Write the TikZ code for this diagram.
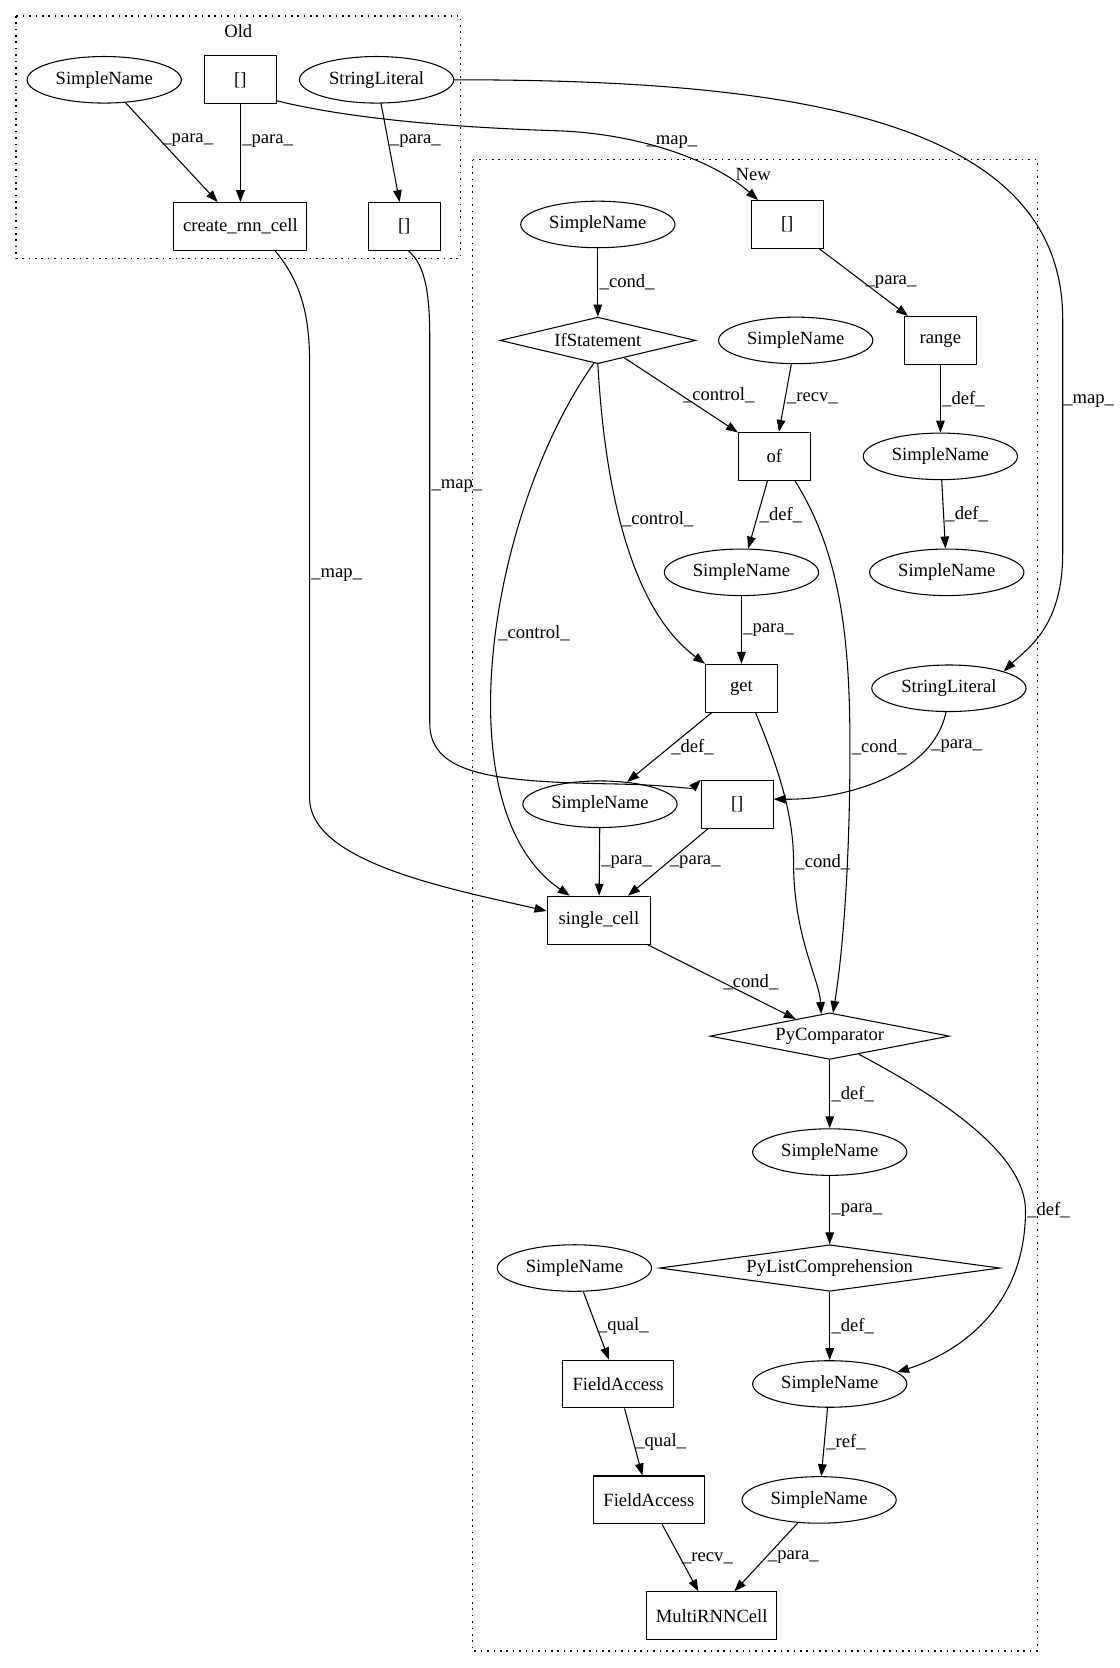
\documentclass[tikz,border=0pt]{standalone}
\usepackage{fontspec}
\setmainfont{Liberation Serif}
\usetikzlibrary{arrows.meta, shapes.geometric}

\begin{document}
\begin{tikzpicture}[x=0.8pt, y=-0.8pt,
  font=\fontsize{14pt}{16pt}\selectfont,
  ell/.style={draw, ellipse, line width=0.8pt, minimum width=116pt, minimum height=35pt, inner sep=0pt},
  box/.style={draw, rectangle, line width=0.8pt, minimum width=54pt, minimum height=36pt},
  dia/.style={draw, diamond, aspect=6, line width=0.8pt, minimum height=35pt, inner sep=0pt},
  lbl/.style={anchor=west, inner sep=1pt},
  edge/.style={-{Triangle[length=9pt, width=6.5pt]}, line width=0.8pt},
  cluster/.style={line width=0.9pt, dash pattern=on 1.2pt off 3.6pt}]
  \useasboundingbox (0,0) rectangle (1052,1568);

  % Old
  \draw[cluster] (15,15) rectangle (433,243);
  \node (oldlbl) at (224,29) {Old};
  \node[ell] (oSN) at (98,75) {SimpleName};
  \node[box] (oArr) at (226,75) {[]};
  \node[ell] (oSL) at (354,75) {StringLiteral};
  \node[box, minimum width=100pt] (oCreate) at (226,213) {create\_rnn\_cell};
  \node[box] (oArr2) at (380,213) {[]};

  % New
  \draw[cluster] (444,150) rectangle (975,1552);
  \node (newlbl) at (708,164) {New};
  \node[box] (nArr1) at (740,211) {[]};
  \node[ell] (nSNcond) at (562,211) {SimpleName};
  \node[dia, minimum width=147pt] (nIf) at (562,320) {IfStatement};
  \node[ell] (nSNrecv) at (748,320) {SimpleName};
  \node[box] (nRange) at (884,320) {range};
  \node[box] (nOf) at (728,429) {of};
  \node[ell] (nSNr1) at (884,429) {SimpleName};
  \node[ell] (nSNof) at (697,538) {SimpleName};
  \node[ell] (nSNr2) at (890,538) {SimpleName};
  \node[box] (nGet) at (697,647) {get};
  \node[ell] (nSL) at (892,647) {StringLiteral};
  \node[ell] (nSNget) at (564,756) {SimpleName};
  \node[box] (nArr2) at (693,756) {[]};
  \node[box, minimum width=78pt] (nSingle) at (563,865) {single\_cell};
  \node[dia, minimum width=180pt] (nPyComp) at (780,974) {PyComparator};
  \node[ell] (nSNc) at (780,1083) {SimpleName};
  \node[dia, aspect=7, minimum width=256pt] (nPyList) at (780,1192) {PyListComprehension};
  \node[ell] (nSNq) at (540,1192) {SimpleName};
  \node[box, minimum width=83pt] (nFA1) at (581,1301) {FieldAccess};
  \node[ell] (nSNd) at (780,1301) {SimpleName};
  \node[box, minimum width=83pt] (nFA2) at (610,1410) {FieldAccess};
  \node[ell] (nSNref) at (770,1410) {SimpleName};
  \node[box, minimum width=98pt] (nMulti) at (669,1519) {MultiRNNCell};

  % straight edges
  \foreach \a/\b/\t/\p in {oSN/oCreate/para/0.38, oArr/oCreate/para/0.38, oSL/oArr2/para/0.38,
      nArr1/nRange/para/0.5, nSNcond/nIf/cond/0.5, nIf/nOf/control/0.5, nSNrecv/nOf/recv/0.5,
      nRange/nSNr1/def/0.5, nOf/nSNof/def/0.5, nSNr1/nSNr2/def/0.5, nSNof/nGet/para/0.5,
      nGet/nSNget/def/0.5, nSNget/nSingle/para/0.5, nArr2/nSingle/para/0.5,
      nSingle/nPyComp/cond/0.5, nPyComp/nSNc/def/0.5, nSNc/nPyList/para/0.5,
      nPyList/nSNd/def/0.5, nSNq/nFA1/qual/0.5, nFA1/nFA2/qual/0.5, nSNd/nSNref/ref/0.5,
      nFA2/nMulti/recv/0.5, nSNref/nMulti/para/0.5}
    \draw[edge] (\a) -- node[lbl, pos=\p] {\_\t\_} (\b);

  % map edges
  \draw[edge] (oArr.-30) .. controls (330,112) and (430,120) .. (526,123)
    .. controls (600,126) and (670,150) .. node[lbl, pos=0.38, anchor=south west, inner sep=0pt, yshift=-4pt] {\_map\_} (nArr1.140);
  \draw[edge] (oSL.east) .. controls (740,75) and (999,110) .. (999,300)
    -- node[lbl, pos=0.35, inner sep=0pt] {\_map\_} (999,520) .. controls (999,590) and (965,610) .. (nSL.north east);
  \draw[edge] (oCreate.-35) .. controls (280,262) and (291,290) .. (291,340)
    -- node[lbl, pos=0.49] {\_map\_} (291,750) .. controls (291,810) and (420,835) .. (nSingle.170);
  \draw[edge] (oArr2.-80) .. controls (401,250) and (404,280) .. (404,320)
    -- node[lbl, pos=0.38] {\_map\_} (404,680) .. controls (404,730) and (470,735) .. (580,737)
    .. controls (630,738) and (650,742) .. (nArr2.north west);

  % curved edges
  \draw[edge] (nIf.south) .. controls (568,450) and (590,570) .. node[lbl, pos=0.45] {\_control\_} (nGet.north west);
  \draw[edge] (nIf.-100) .. controls (460,480) and (415,760) .. node[lbl, pos=0.47] {\_control\_} (nSingle.140);
  \draw[edge] (nOf.-50) .. controls (790,520) and (799,600) .. (799,702) node[lbl] {\_cond\_}
    .. controls (799,830) and (790,910) .. (nPyComp.82);
  \draw[edge] (nGet.-60) .. controls (735,730) and (746,770) .. (746,811) node[lbl] {\_cond\_}
    .. controls (746,880) and (770,920) .. (nPyComp.111);
  \draw[edge] (nSL.-97) .. controls (877,730) and (790,752) .. node[lbl, pos=0.2] {\_para\_} (nArr2.8);
  \draw[edge] (nPyComp.-32) .. controls (900,1040) and (964,1090) .. (964,1138) node[lbl] {\_def\_}
    .. controls (964,1230) and (900,1272) .. (nSNd.10);
\end{tikzpicture}
\end{document}
